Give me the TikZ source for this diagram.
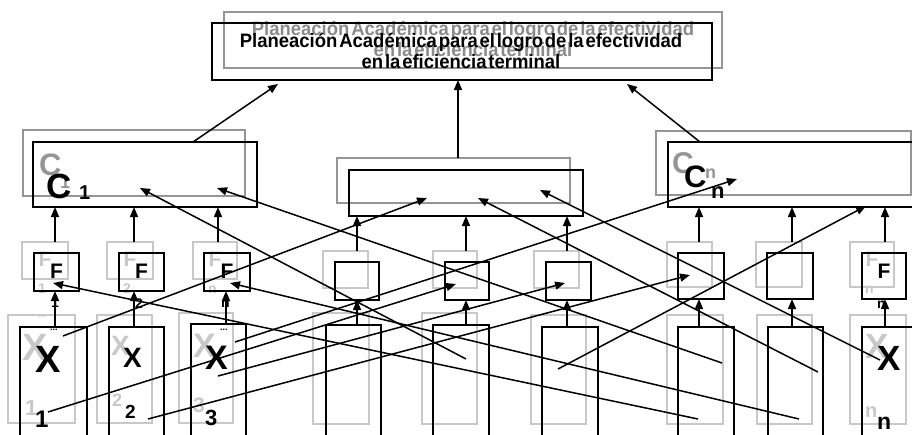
\documentclass[tikz,border=0pt]{standalone}
\usepackage{fontspec}
\usepackage{graphicx}
\setmainfont{Liberation Sans}
\newfontfamily\ttlfont[WordSpace=0.35]{Liberation Sans}
\usetikzlibrary{arrows.meta}
\definecolor{gA}{HTML}{959595}
\definecolor{gB}{HTML}{C8C8C8}
\definecolor{gT}{HTML}{8A8A8A}
\newcommand\fsz[1]{\fontsize{#1}{#1}\selectfont}
\newcommand\ttl[1]{\scalebox{1.0}[1.05]{\ttlfont\bfseries\fsz{18.5}#1}}
\tikzset{
 bx/.style={draw=black, line width=1.6pt, inner sep=0pt, outer sep=0pt, anchor=north west},
 gbx/.style={bx, draw=gA},
 lgbx/.style={bx, draw=gB},
 arr/.style={line width=1.5pt, -{Triangle[length=10pt,width=8pt]}},
 lbl/.style={inner sep=0pt, outer sep=0pt, anchor=base west, font=\bfseries},
 clbl/.style={lbl, anchor=base},
}
\begin{document}
\begin{tikzpicture}[x=1pt,y=-1pt]
\useasboundingbox (0,0) rectangle (912,434);
\clip (0,0) rectangle (912,434);
% ---------- gray ghost boxes ----------
\node[gbx, minimum width=498pt, minimum height=56pt] (gtop) at (224,12) {};
\node[gbx, minimum width=222pt, minimum height=66pt] (gC1) at (23,130) {};
\node[gbx, minimum width=233pt, minimum height=45pt] (gCM) at (337,158) {};
\node[gbx, minimum width=255pt, minimum height=64pt] (gCn) at (656,131) {};
\node[lgbx, minimum width=46pt, minimum height=37pt] (gF1) at (22,242) {};
\node[lgbx, minimum width=46pt, minimum height=37pt] (gF2) at (107,242) {};
\node[lgbx, minimum width=44pt, minimum height=37pt] (gF3) at (193,242) {};
\node[lgbx, minimum width=45pt, minimum height=37pt] (gB4) at (323,251) {};
\node[lgbx, minimum width=44pt, minimum height=37pt] (gB5) at (433,251) {};
\node[lgbx, minimum width=45pt, minimum height=37pt] (gB6) at (534,251) {};
\node[lgbx, minimum width=45pt, minimum height=45pt] (gB10) at (667,242) {};
\node[lgbx, minimum width=46pt, minimum height=45pt] (gB11) at (756,242) {};
\node[lgbx, minimum width=44pt, minimum height=45pt] (gFn) at (850,242) {};
\node[lgbx, minimum width=67pt, minimum height=108pt] (gX1) at (8,315) {};
\node[lgbx, minimum width=55pt, minimum height=108pt] (gX2) at (97,315) {};
\node[lgbx, minimum width=54pt, minimum height=110pt] (gX3) at (179,313) {};
\node[lgbx, minimum width=56pt, minimum height=111pt] (gB7) at (313,313) {};
\node[lgbx, minimum width=55pt, minimum height=111pt] (gB8) at (422,313) {};
\node[lgbx, minimum width=55pt, minimum height=109pt] (gB9) at (531,315) {};
\node[lgbx, minimum width=56pt, minimum height=109pt] (gB13) at (667,315) {};
\node[lgbx, minimum width=55pt, minimum height=109pt] (gB14) at (757,315) {};
\node[lgbx, minimum width=56pt, minimum height=109pt] (gXn) at (850,315) {};
% ---------- gray ghost texts ----------
\node[clbl, text=gT] (gt1) at (473,35) {\ttl{Planeación Académica para el logro de la efectividad}};
\node[clbl, text=gT] (gt2) at (473,56) {\ttl{en la eficiencia terminal}};
\node[lbl, text=gA, font=\bfseries\fsz{31}] (gc1) at (39,175) {C};
\node[lbl, text=gA, font=\bfseries\fsz{18}] (gc1s) at (60,188) {1};
\node[lbl, text=gA, font=\bfseries\fsz{30}] (gcn) at (672,173) {C};
\node[lbl, text=gA, font=\bfseries\fsz{18}] (gcns) at (705,178) {n};
\node[clbl, text=gB, font=\bfseries\fsz{21}] (gf1) at (45,266) {F};
\node[clbl, text=gB, font=\bfseries\fsz{21}] (gf2) at (130,266) {F};
\node[clbl, text=gB, font=\bfseries\fsz{21}] (gf3) at (215,266) {F};
\node[clbl, text=gB, font=\bfseries\fsz{21}] (gfn) at (872,266) {F};
\node[lbl, text=gB, font=\bfseries\fsz{14}] (gf1s) at (38,293) {1};
\node[lbl, text=gB, font=\bfseries\fsz{14}] (gf2s) at (123,293) {2};
\node[lbl, text=gB, font=\bfseries\fsz{14}] (gf3s) at (208,293) {n};
\node[lbl, text=gB, font=\bfseries\fsz{14}] (gfns) at (865,293) {n};
\node[lbl, text=gB, font=\bfseries\fsz{38}] (gx1) at (23,360) {X};
\node[lbl, text=gB, font=\bfseries\fsz{28}] (gx2) at (111,355) {X};
\node[lbl, text=gB, font=\bfseries\fsz{34}] (gx3) at (193,357) {X};
\node[lbl, text=gB, font=\bfseries\fsz{35}] (gxn) at (865,358) {X};
\node[lbl, text=gB, font=\bfseries\fsz{22}] (gn1) at (25,415) {1};
\node[lbl, text=gB, font=\bfseries\fsz{18}] (gn2) at (112,406) {2};
\node[lbl, text=gB, font=\bfseries\fsz{21}] (gn3) at (193,412) {3};
\node[lbl, text=gB, font=\bfseries\fsz{20}] (gnn) at (865,417) {n};
\node[lbl, text=gB, font=\bfseries\fsz{9}] (gd1) at (38,317) {...};
% ---------- black boxes ----------
\node[bx, minimum width=500pt, minimum height=57pt] (top) at (212,23) {};
\node[bx, minimum width=224pt, minimum height=65pt] (C1) at (33,142) {};
\node[bx, minimum width=234pt, minimum height=46pt] (CM) at (349,170) {};
\node[bx, minimum width=262pt, minimum height=65pt] (Cn) at (668,142) {};
\node[bx, minimum width=45pt, minimum height=38pt] (F1) at (34,253) {};
\node[bx, minimum width=45pt, minimum height=38pt] (F2) at (119,253) {};
\node[bx, minimum width=46pt, minimum height=38pt] (F3) at (204,253) {};
\node[bx, minimum width=44pt, minimum height=38pt] (B4) at (335,262) {};
\node[bx, minimum width=44pt, minimum height=38pt] (B5) at (445,262) {};
\node[bx, minimum width=45pt, minimum height=38pt] (B6) at (546,262) {};
\node[bx, minimum width=46pt, minimum height=46pt] (B10) at (678,253) {};
\node[bx, minimum width=46pt, minimum height=46pt] (B11) at (767,253) {};
\node[bx, minimum width=44pt, minimum height=46pt] (Fn) at (862,253) {};
\node[bx, minimum width=67pt, minimum height=120pt] (X1) at (20,327) {};
\node[bx, minimum width=55pt, minimum height=120pt] (X2) at (109,327) {};
\node[bx, minimum width=55pt, minimum height=120pt] (X3) at (191,324) {};
\node[bx, minimum width=55pt, minimum height=120pt] (B7) at (326,325) {};
\node[bx, minimum width=56pt, minimum height=120pt] (B8) at (433,325) {};
\node[bx, minimum width=56pt, minimum height=120pt] (B9) at (542,327) {};
\node[bx, minimum width=56pt, minimum height=120pt] (B13) at (678,327) {};
\node[bx, minimum width=55pt, minimum height=120pt] (B14) at (768,327) {};
\node[bx, minimum width=70pt, minimum height=120pt] (Xn) at (862,327) {};
% ---------- black texts ----------
\node[clbl] (t1) at (461,47) {\ttl{Planeación Académica para el logro de la efectividad}};
\node[clbl] (t2) at (461,68) {\ttl{en la eficiencia terminal}};
\node[lbl, font=\bfseries\fsz{35}] (c1) at (46,198) {C};
\node[lbl, font=\bfseries\fsz{20}] (c1s) at (79,199) {1};
\node[lbl, font=\bfseries\fsz{31}] (cn) at (684,187) {C};
\node[lbl, font=\bfseries\fsz{22}] (cns) at (711,198) {n};
\node[clbl, font=\bfseries\fsz{21}] (f1) at (56.5,278) {F};
\node[clbl, font=\bfseries\fsz{21}] (f2) at (141.5,278) {F};
\node[clbl, font=\bfseries\fsz{21}] (f3) at (227,278) {F};
\node[clbl, font=\bfseries\fsz{21}] (fn) at (884,278) {F};
\node[lbl, font=\bfseries\fsz{14}] (f1s) at (51,307) {1};
\node[lbl, font=\bfseries\fsz{14}] (f2s) at (135,308) {2};
\node[lbl, font=\bfseries\fsz{14}] (f3s) at (221,307) {n};
\node[lbl, font=\bfseries\fsz{14}] (fns) at (877,308) {n};
\node[lbl, font=\bfseries\fsz{38}] (x1) at (35,372) {X};
\node[lbl, font=\bfseries\fsz{28}] (x2) at (123,367) {X};
\node[lbl, font=\bfseries\fsz{34}] (x3) at (205,369) {X};
\node[lbl, font=\bfseries\fsz{35}] (xn) at (877,370) {X};
\node[lbl, font=\bfseries\fsz{24}] (n1) at (35,427) {1};
\node[lbl, font=\bfseries\fsz{19}] (n2) at (125,418) {2};
\node[lbl, font=\bfseries\fsz{22}] (n3) at (205,425) {3};
\node[lbl, font=\bfseries\fsz{23}] (nn) at (877,429) {n};
\node[lbl, font=\bfseries\fsz{9}] (d1) at (50,330) {...};
\node[lbl, font=\bfseries\fsz{9}] (d3) at (220,330) {...};
% ---------- coordinates for connectors ----------
\coordinate (vA) at (55,0);   \coordinate (vB) at (134,0);
\coordinate (vC) at (218,0);  \coordinate (vC2) at (226,0);
\coordinate (vD) at (357,0);  \coordinate (vE) at (466,0);
\coordinate (vF) at (567,0);  \coordinate (vG) at (699,0);
\coordinate (vH) at (792,0);  \coordinate (vI) at (885,0);
\coordinate (vT) at (458,0);
\coordinate (c1out) at (193,142); \coordinate (topL) at (278,84);
\coordinate (cnout) at (700,142); \coordinate (topR) at (627,84);
% cross-line ends
\coordinate (s1) at (63,336);   \coordinate (e1) at (427,198);
\coordinate (s2) at (48,412);   \coordinate (e2) at (456,284);
\coordinate (s3) at (148,419);  \coordinate (e3) at (690,275);
\coordinate (s4) at (235,342);  \coordinate (e4) at (737,179);
\coordinate (s5) at (218,376);  \coordinate (e5) at (565,283);
\coordinate (s6) at (466,359);  \coordinate (e6) at (140,188);
\coordinate (s7) at (558,369);  \coordinate (e7) at (866,206);
\coordinate (s8) at (722,363);  \coordinate (e8) at (217,188);
\coordinate (s9) at (698,419);  \coordinate (e9) at (53,283);
\coordinate (s10) at (818,372); \coordinate (e10) at (478,198);
\coordinate (s11) at (799,419); \coordinate (e11) at (230,283);
\coordinate (s12) at (880,360); \coordinate (e12) at (540,190);
% ---------- connectors to top box ----------
\draw[arr] (c1out) -- (topL);
\draw[arr] (gCM.north -| vT) -- (top.south -| vT);
\draw[arr] (cnout) -- (topR);
% ---------- F level to C level ----------
\draw[arr] (gF1.north -| vA) -- (C1.south -| vA);
\draw[arr] (gF2.north -| vB) -- (C1.south -| vB);
\draw[arr] (gF3.north -| vC) -- (C1.south -| vC);
\draw[arr] (gB4.north -| vD) -- (CM.south -| vD);
\draw[arr] (gB5.north -| vE) -- (CM.south -| vE);
\draw[arr] (gB6.north -| vF) -- (CM.south -| vF);
\draw[arr] (gB10.north -| vG) -- (Cn.south -| vG);
\draw[arr] (gB11.north -| vH) -- (Cn.south -| vH);
\draw[arr] (gFn.north -| vI) -- (Cn.south -| vI);
% ---------- X level to F level ----------
\draw[arr] (X1.north -| vA) -- (F1.south -| vA);
\draw[arr] (X2.north -| vB) -- (F2.south -| vB);
\draw[arr] (X3.north -| vC2) -- (F3.south -| vC2);
\draw[arr] (B7.north -| vD) -- (B4.south -| vD);
\draw[arr] (B8.north -| vE) -- (B5.south -| vE);
\draw[arr] (B9.north -| vF) -- (B6.south -| vF);
\draw[arr] (B13.north -| vG) -- (B10.south -| vG);
\draw[arr] (B14.north -| vH) -- (B11.south -| vH);
\draw[arr] (Xn.north -| vI) -- (Fn.south -| vI);
% ---------- crossing connectors ----------
\draw[arr] (s1) -- (e1);
\draw[arr] (s2) -- (e2);
\draw[arr] (s3) -- (e3);
\draw[arr] (s4) -- (e4);
\draw[arr] (s5) -- (e5);
\draw[arr] (s6) -- (e6);
\draw[arr] (s7) -- (e7);
\draw[arr] (s8) -- (e8);
\draw[arr] (s9) -- (e9);
\draw[arr] (s10) -- (e10);
\draw[arr] (s11) -- (e11);
\draw[arr] (s12) -- (e12);
\end{tikzpicture}
\end{document}
